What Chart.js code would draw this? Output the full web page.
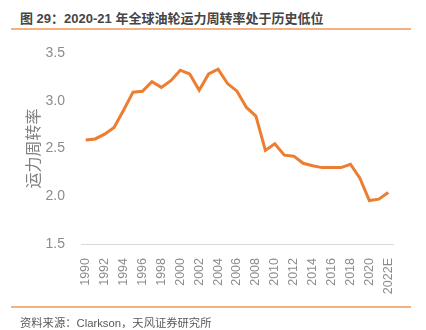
<!DOCTYPE html>
<html>
<head>
<meta charset="utf-8">
<script src="https://cdn.jsdelivr.net/npm/chart.js@4"></script>
<style>
  body { margin: 0; width: 426px; height: 330px; background: #fff; position: relative; overflow: hidden;
         font-family: "Liberation Sans", "Noto Sans CJK SC", sans-serif; }
  #title { position: absolute; left: 20px; top: 8px; font-size: 13px; font-weight: bold; color: #454545; white-space: nowrap; }
  #src { position: absolute; left: 20px; top: 314px; font-size: 11.3px; color: #595959; white-space: nowrap; }
  .rule { position: absolute; left: 11px; width: 400px; height: 2px; background: #f6b183; }
  #wrap { position: absolute; left: 0; top: 0; width: 426px; height: 330px; }
</style>
</head>
<body>
<div id="title">图 29：2020-21 年全球油轮运力周转率处于历史低位</div>
<div class="rule" style="top:28px"></div>
<div id="wrap"><canvas id="c"></canvas></div>
<div class="rule" style="top:306px"></div>
<div id="src">资料来源：Clarkson，天风证券研究所</div>
<script>
// years on the category axis; the last one is an estimate
const years = [
  "1990", "1991", "1992", "1993", "1994", "1995", "1996", "1997", "1998", "1999",
  "2000", "2001", "2002", "2003", "2004", "2005", "2006", "2007", "2008", "2009",
  "2010", "2011", "2012", "2013", "2014", "2015", "2016", "2017", "2018", "2019",
  "2020", "2021", "2022E",
];
// tanker fleet turnover rate
const turnover = [
  2.59, 2.60, 2.65, 2.72, 2.90, 3.09, 3.10, 3.20, 3.14, 3.21,
  3.32, 3.28, 3.11, 3.28, 3.33, 3.18, 3.10, 2.93, 2.84, 2.48,
  2.55, 2.43, 2.42, 2.345, 2.32, 2.30, 2.30, 2.30, 2.335, 2.19,
  1.955, 1.97, 2.04,
];
const yTicks = [1.5, 2.0, 2.5, 3.0, 3.5];

const tickGray = "#8c8c8c";
const font = "'Liberation Sans', 'Noto Sans CJK SC', sans-serif";

new Chart(document.getElementById("c"), {
  type: "line",
  data: {
    labels: years,
    datasets: [{
      data: turnover,
      borderColor: "#ed7d31",
      borderWidth: 3,
      pointRadius: 0,
      tension: 0,
      fill: false,
    }],
  },
  options: {
    responsive: true,
    maintainAspectRatio: false,
    animation: false,
    layout: { padding: { top: 53, left: 20, right: 33, bottom: 36 } },
    plugins: { legend: { display: false }, tooltip: { enabled: false } },
    scales: {
      x: {
        offset: true,
        grid: { display: false },
        border: { display: true, color: "#d9d9d9", width: 1 },
        afterFit: (s) => { s.height = 50; },
        ticks: {
          autoSkip: false,
          minRotation: 90,
          maxRotation: 90,
          padding: 6,
          color: tickGray,
          font: { family: font, size: 12.5 },
          callback: (v, i) => (i % 2 === 0 ? years[i] : ""),
        },
      },
      y: {
        min: 1.5,
        max: 3.5,
        afterBuildTicks: (s) => { s.ticks = yTicks.map((v) => ({ value: v })); },
        afterFit: (s) => { s.width = 61; },
        grid: { display: false, drawTicks: false },
        border: { display: false },
        ticks: {
          padding: 16,
          color: tickGray,
          font: { family: font, size: 14 },
          callback: (v) => Number(v).toFixed(1),
        },
        title: {
          display: true,
          text: "运力周转率",
          color: "#808080",
          padding: { top: 5, bottom: 0 },
          font: { family: font, size: 16 },
        },
      },
    },
  },
});
</script>
</body>
</html>
